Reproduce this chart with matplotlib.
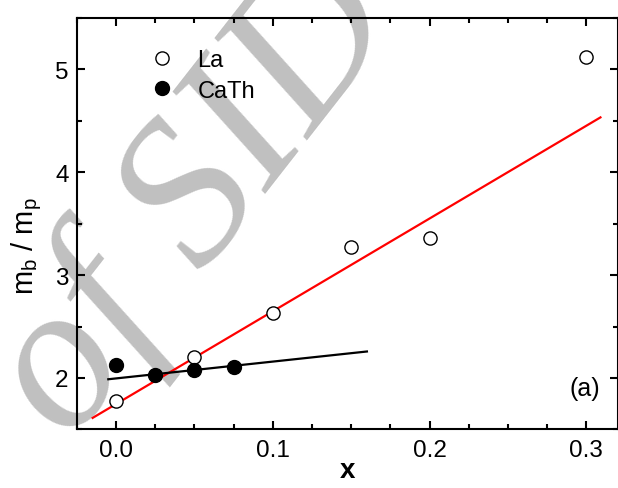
import matplotlib
matplotlib.use("Agg")
from matplotlib import pyplot as plt
from matplotlib.ticker import MultipleLocator

plt.rcParams['font.family'] = ['Liberation Sans', 'DejaVu Sans']

# La samples (open circles)
la_x = [0.0, 0.05, 0.1, 0.15, 0.2, 0.3]
la_y = [1.776, 2.204, 2.63, 3.27, 3.365, 5.117]

# CaTh samples (filled circles)
cath_x = [0.0, 0.025, 0.05, 0.075]
cath_y = [2.123, 2.026, 2.075, 2.107]

# linear fit lines (end points)
red_fit_x = [-0.015, 0.309]
red_fit_y = [1.611, 4.534]
black_fit_x = [-0.005, 0.16]
black_fit_y = [1.987, 2.257]

fig = plt.figure(figsize=(6.18, 4.89), dpi=100)
ax = fig.add_axes([0.1245, 0.12, 0.875, 0.841])
ax.patch.set_visible(False)

# grey watermark behind everything
ax.text(0.22, 0.56, "of SID", transform=ax.transAxes, rotation=52,
        fontsize=150, color='#c0c0c0', family='Liberation Serif',
        style='italic', ha='center', va='center', zorder=0, clip_on=False)

ax.plot(red_fit_x, red_fit_y, color='red', lw=1.6, zorder=2)
ax.plot(black_fit_x, black_fit_y, color='black', lw=1.6, zorder=2)
ax.plot(la_x, la_y, 'o', mfc='white', mec='black', mew=1.0, ms=9.5,
        label='La', zorder=3)
ax.plot(cath_x, cath_y, 'o', mfc='black', mec='black', ms=10,
        label='CaTh', zorder=3)

ax.text(0.309, 1.9, "(a)", ha='right', va='center', fontsize=18)

ax.set_xlim(-0.025, 0.32)
ax.set_ylim(1.5, 5.5)
ax.xaxis.set_major_locator(MultipleLocator(0.1))
ax.xaxis.set_minor_locator(MultipleLocator(0.025))
ax.yaxis.set_major_locator(MultipleLocator(1))
ax.yaxis.set_minor_locator(MultipleLocator(0.5))
ax.xaxis.set_major_formatter(plt.FuncFormatter(lambda v, p: f"{v:.1f}"))

ax.tick_params(which='both', direction='in', top=True, right=True,
               labelsize=17.5, width=1.5)
ax.tick_params(which='major', length=6)
ax.tick_params(which='minor', length=3.5)
ax.tick_params(axis='x', pad=7)
ax.tick_params(axis='y', pad=6)
for s in ax.spines.values():
    s.set_linewidth(1.5)

ax.set_xlabel("x", fontsize=20, fontweight='bold', labelpad=-3)
ax.set_ylabel(r"m$_\mathregular{b}$ / m$_\mathregular{p}$", fontsize=21)
ax.yaxis.set_label_coords(-0.06, 0.448)

ax.legend(loc='upper left', bbox_to_anchor=(0.118, 0.948), frameon=False,
          fontsize=17, handletextpad=1.0, labelspacing=0.37,
          handlelength=1.0, borderaxespad=0)

fig.savefig("out.png", dpi=100)
